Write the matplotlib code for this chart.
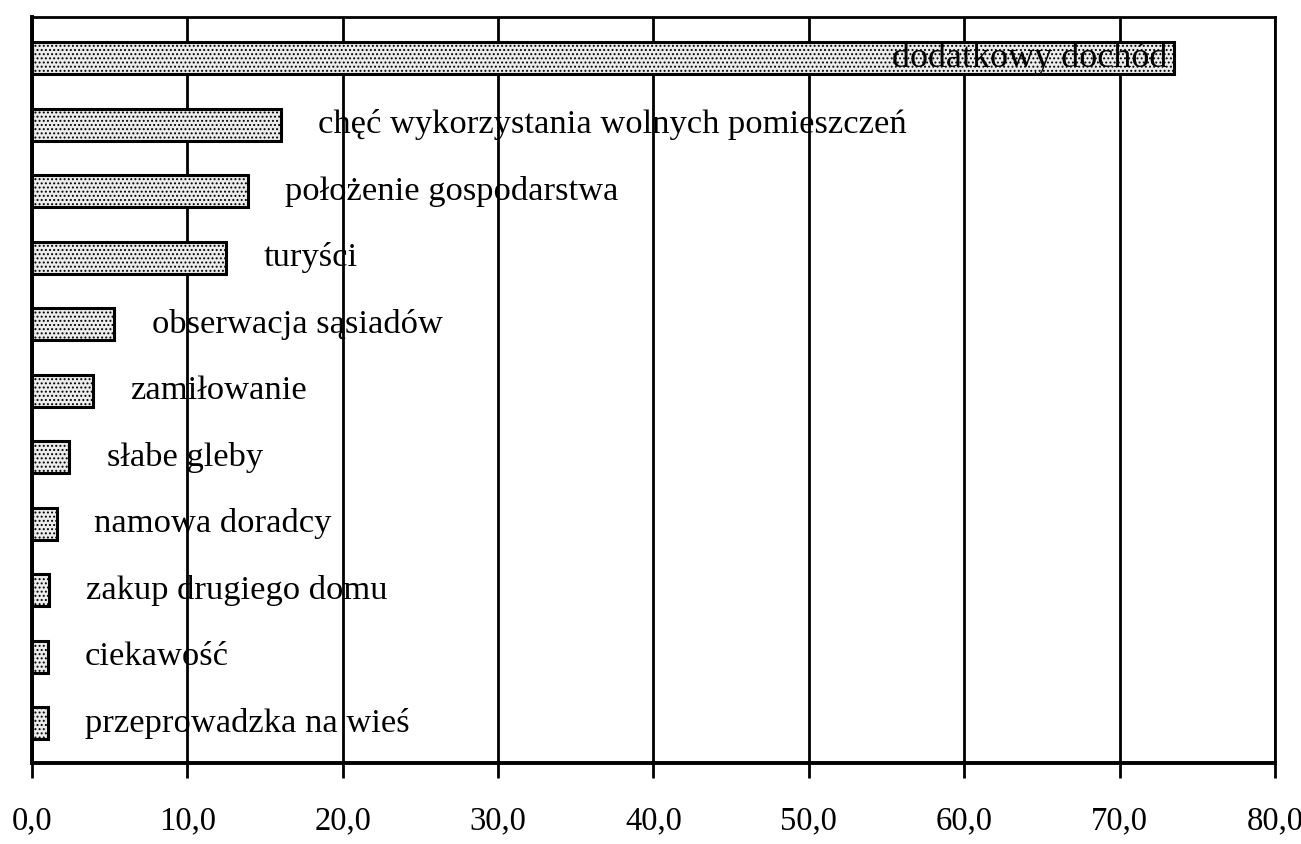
import numpy as np
import matplotlib
matplotlib.use('Agg')
import matplotlib.pyplot as plt

# data (percent)
categories = ['dodatkowy dochód',
              'chęć wykorzystania wolnych pomieszczeń',
              'położenie gospodarstwa',
              'turyści',
              'obserwacja sąsiadów',
              'zamiłowanie',
              'słabe gleby',
              'namowa doradcy',
              'zakup drugiego domu',
              'ciekawość',
              'przeprowadzka na wieś']
values = [73.5, 16.0, 13.9, 12.5, 5.3, 3.9, 2.4, 1.6, 1.1, 1.0, 1.0]
xticks = [0, 10, 20, 30, 40, 50, 60, 70, 80]
xticklabels = ['0,0', '10,0', '20,0', '30,0', '40,0', '50,0', '60,0', '70,0', '80,0']

plt.rcParams['font.family'] = ['Liberation Serif', 'DejaVu Serif']
plt.rcParams['hatch.linewidth'] = 0.9

fig = plt.figure(figsize=(13.01, 8.44), dpi=100)
ax = fig.add_axes([0.0246, 0.096, 0.9554, 0.884])

y = np.arange(len(categories))
ax.barh(y, values, height=0.48, color='#ececec', edgecolor='black',
        linewidth=2.2, hatch='....', zorder=3)

# labels next to the bars (first one sits inside its bar)
for yi, v, name in zip(y, values, categories):
    if yi == 0:
        ax.text(v - 0.4, yi, name, ha='right', va='center', fontsize=26, zorder=4)
    else:
        ax.text(v + 2.4, yi, name, ha='left', va='center', fontsize=24.8, zorder=4)

ax.set_xlim(0, 80)
ax.set_ylim(len(categories) - 0.4, -0.62)
ax.set_xticks(xticks)
ax.set_xticklabels(xticklabels, fontsize=23.5)
ax.set_yticks([])
ax.grid(axis='x', color='black', linewidth=2, zorder=1)
ax.tick_params(axis='x', direction='out', length=11, width=2, pad=20)
for s in ax.spines.values():
    s.set_linewidth(2)
ax.spines['left'].set_linewidth(2.8)
ax.spines['bottom'].set_linewidth(2.8)

fig.savefig('out.png', dpi=100)
